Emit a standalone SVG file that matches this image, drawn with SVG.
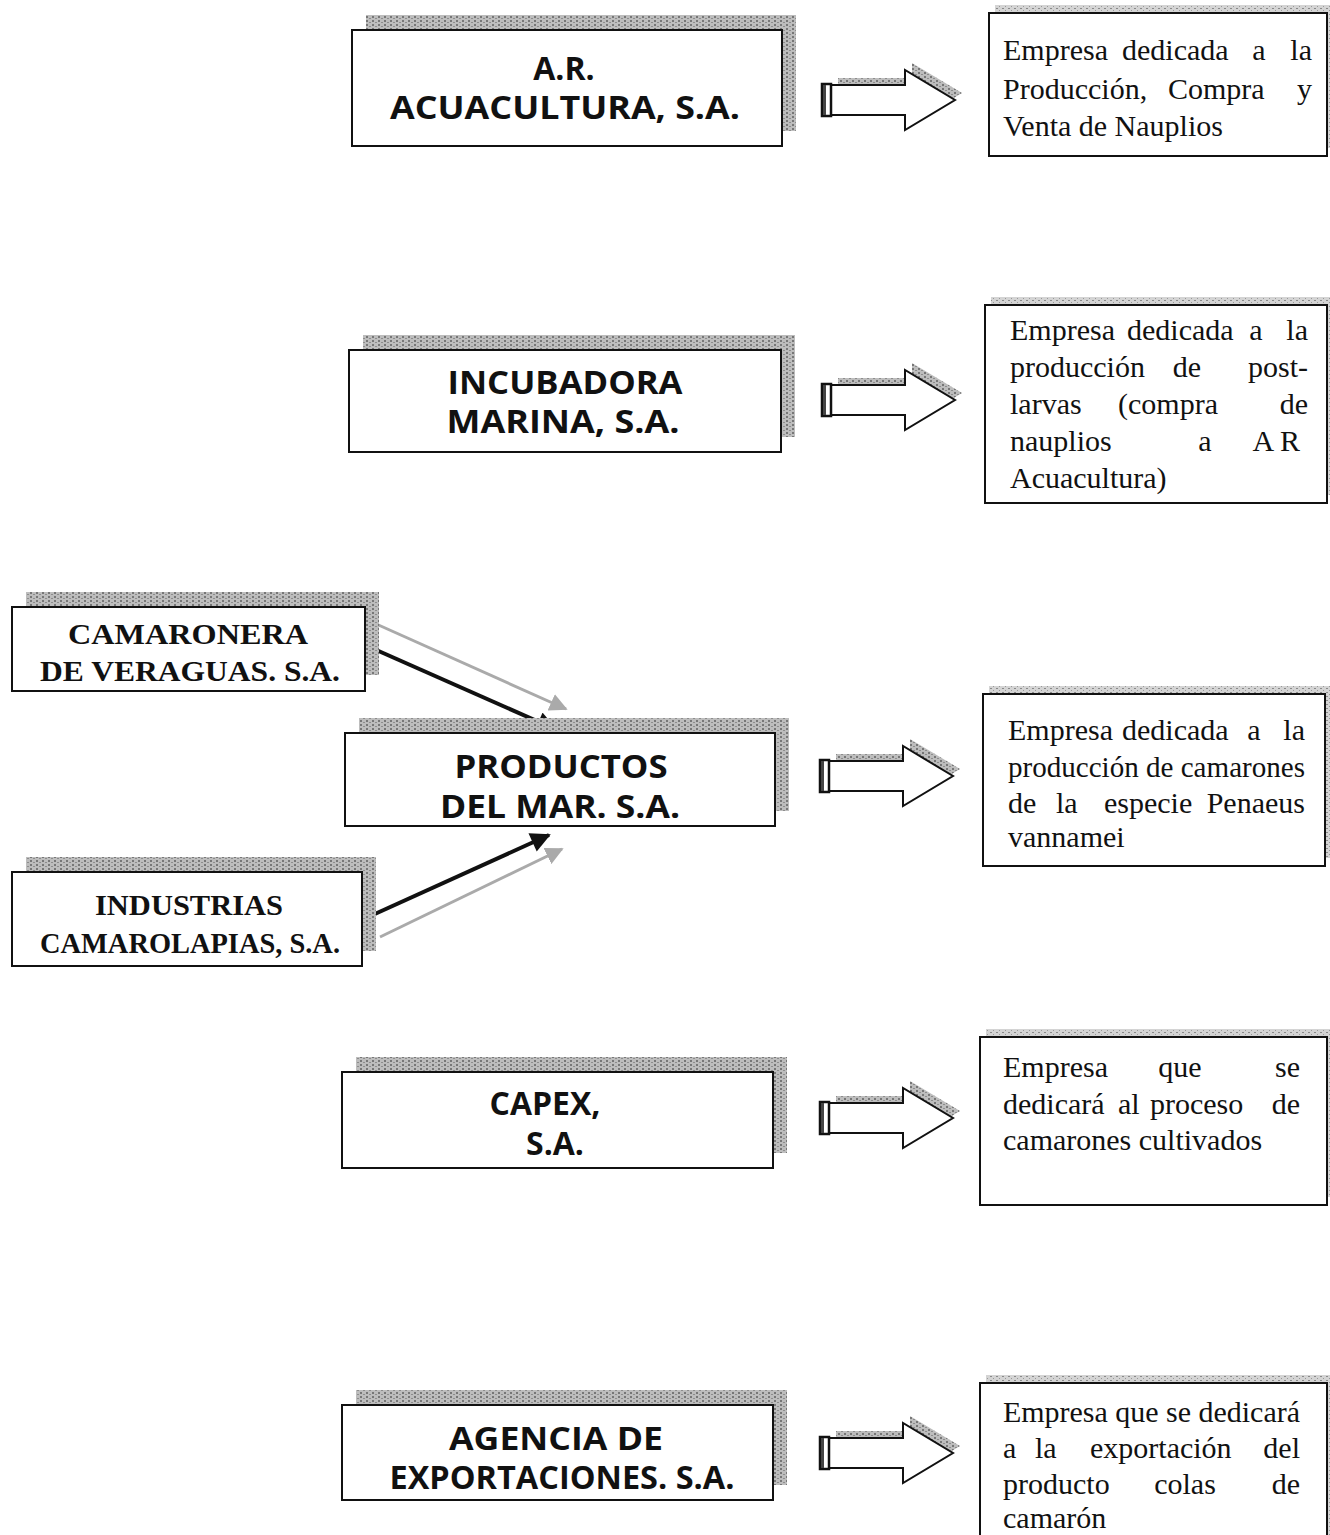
<svg xmlns="http://www.w3.org/2000/svg" width="1330" height="1535" viewBox="0 0 1330 1535">
<style>
.box{fill:#fff;stroke:#111;stroke-width:2}
.sh{fill:url(#grain)}
.shl{fill:url(#grainL)}
.sans{font-family:"Open Sans","Lato","DejaVu Sans",sans-serif;font-weight:700;font-size:32px;fill:#111;text-anchor:middle}
.serb{font-family:"Liberation Serif","Times New Roman",serif;font-weight:700;font-size:30px;fill:#111;text-anchor:middle}
.ser{font-family:"Liberation Serif","Times New Roman",serif;font-size:30px;fill:#111}
.e{text-anchor:end}
.m{text-anchor:middle}
</style>
<defs>
<pattern id="grain" width="6" height="4" patternUnits="userSpaceOnUse"><rect width="6" height="4" fill="#bdbdbd"/><rect x="0" y="0" width="2" height="2" fill="#777"/><rect x="3" y="2" width="2" height="1" fill="#8d8d8d"/></pattern>
<pattern id="grainL" width="6" height="4" patternUnits="userSpaceOnUse"><rect width="6" height="4" fill="#d4d4d4"/><rect x="0" y="0" width="2" height="1" fill="#8a8a8a"/><rect x="3" y="2" width="1" height="1" fill="#999"/></pattern>
<marker id="ah" viewBox="0 0 10 10" refX="9" refY="5" markerWidth="22" markerHeight="20" markerUnits="userSpaceOnUse" orient="auto"><path d="M0,0 L10,5 L0,10 Z" fill="#111"/></marker>
<marker id="ahg" viewBox="0 0 10 10" refX="9" refY="5" markerWidth="18" markerHeight="18" markerUnits="userSpaceOnUse" orient="auto"><path d="M0,0 L10,5 L0,10 Z" fill="#aaa"/></marker>
<g id="barrow">
<path d="M16,-22 H90 V-37 L140,-7 L90,23 V8 H16 Z" class="sh"/>
<path d="M9,-15 H83 V-30 L133,0 L83,30 V15 H9 Z" fill="#fff" stroke="#111" stroke-width="2"/>
<rect x="0" y="-16" width="9" height="32" fill="#fff" stroke="#111" stroke-width="2.5"/>
<rect x="1" y="-15" width="3" height="30" fill="#444"/>
</g>
</defs>

<g id="connectors">
<use href="#barrow" transform="translate(822,100)"/>
<use href="#barrow" transform="translate(822,400)"/>
<use href="#barrow" transform="translate(820,776)"/>
<use href="#barrow" transform="translate(820,1118)"/>
<use href="#barrow" transform="translate(820,1453)"/>
<line x1="374" y1="623" x2="566" y2="709" stroke="#aaa" stroke-width="3" marker-end="url(#ahg)"/>
<line x1="380" y1="937" x2="562" y2="849" stroke="#aaa" stroke-width="3" marker-end="url(#ahg)"/>
<line x1="365" y1="645" x2="555" y2="729" stroke="#111" stroke-width="4" marker-end="url(#ah)"/>
<line x1="366" y1="918" x2="549" y2="835" stroke="#111" stroke-width="4" marker-end="url(#ah)"/>
</g>

<g id="n-acuacultura">
<rect x="366" y="15" width="430" height="116" class="sh"/>
<rect x="352" y="30" width="430" height="116" class="box"/>
<text x="564" y="80" class="sans">A.R.</text>
<text x="565" y="119" class="sans" textLength="350" lengthAdjust="spacingAndGlyphs">ACUACULTURA, S.A.</text>
</g>
<g id="n-incubadora">
<rect x="363" y="335" width="432" height="102" class="sh"/>
<rect x="349" y="350" width="432" height="102" class="box"/>
<text x="565" y="394" class="sans" textLength="235" lengthAdjust="spacingAndGlyphs">INCUBADORA</text>
<text x="563" y="433" class="sans" textLength="233" lengthAdjust="spacingAndGlyphs">MARINA, S.A.</text>
</g>
<g id="n-camaronera">
<rect x="26" y="592" width="353" height="83" class="sh"/>
<rect x="12" y="607" width="353" height="84" class="box"/>
<text x="188" y="644" class="serb" textLength="240" lengthAdjust="spacingAndGlyphs">CAMARONERA</text>
<text x="190" y="681" class="serb" textLength="300" lengthAdjust="spacingAndGlyphs">DE VERAGUAS. S.A.</text>
</g>
<g id="n-productos">
<rect x="359" y="718" width="430" height="93" class="sh"/>
<rect x="345" y="733" width="430" height="93" class="box"/>
<text x="561" y="778" class="sans" textLength="213" lengthAdjust="spacingAndGlyphs">PRODUCTOS</text>
<text x="560" y="818" class="sans" textLength="240" lengthAdjust="spacingAndGlyphs">DEL MAR. S.A.</text>
</g>
<g id="n-industrias">
<rect x="26" y="857" width="350" height="94" class="sh"/>
<rect x="12" y="872" width="350" height="94" class="box"/>
<text x="189" y="915" class="serb" textLength="188" lengthAdjust="spacingAndGlyphs">INDUSTRIAS</text>
<text x="190" y="953" class="serb" textLength="300" lengthAdjust="spacingAndGlyphs">CAMAROLAPIAS, S.A.</text>
</g>
<g id="n-capex">
<rect x="356" y="1057" width="431" height="96" class="sh"/>
<rect x="342" y="1072" width="431" height="96" class="box"/>
<text x="545" y="1115" class="sans">CAPEX,</text>
<text x="555" y="1155" class="sans">S.A.</text>
</g>
<g id="n-agencia">
<rect x="356" y="1390" width="431" height="95" class="sh"/>
<rect x="342" y="1405" width="431" height="95" class="box"/>
<text x="556" y="1450" class="sans" textLength="214" lengthAdjust="spacingAndGlyphs">AGENCIA DE</text>
<text x="562" y="1489" class="sans" textLength="345" lengthAdjust="spacingAndGlyphs">EXPORTACIONES. S.A.</text>
</g>

<g id="d-acuacultura">
<rect x="995" y="5" width="338" height="143" class="shl"/>
<rect x="989" y="13" width="338" height="143" class="box"/>
<text x="1003" y="60" class="ser">Empresa</text>
<text x="1122" y="60" class="ser">dedicada</text>
<text x="1259" y="60" class="ser m">a</text>
<text x="1312" y="60" class="ser e">la</text>
<text x="1003" y="99" class="ser">Producción,</text>
<text x="1168" y="99" class="ser">Compra</text>
<text x="1312" y="99" class="ser e">y</text>
<text x="1003" y="136" class="ser">Venta de Nauplios</text>
</g>
<g id="d-incubadora">
<rect x="991" y="297" width="342" height="198" class="shl"/>
<rect x="985" y="305" width="342" height="198" class="box"/>
<text x="1010" y="340" class="ser">Empresa</text>
<text x="1127" y="340" class="ser">dedicada</text>
<text x="1256" y="340" class="ser m">a</text>
<text x="1308" y="340" class="ser e">la</text>
<text x="1010" y="377" class="ser">producción</text>
<text x="1187" y="377" class="ser m">de</text>
<text x="1308" y="377" class="ser e">post-</text>
<text x="1010" y="414" class="ser">larvas</text>
<text x="1118" y="414" class="ser">(compra</text>
<text x="1308" y="414" class="ser e">de</text>
<text x="1010" y="451" class="ser">nauplios</text>
<text x="1205" y="451" class="ser m">a</text>
<text x="1300" y="451" class="ser e">A R</text>
<text x="1010" y="488" class="ser">Acuacultura)</text>
</g>
<g id="d-productos">
<rect x="989" y="686" width="342" height="172" class="shl"/>
<rect x="983" y="694" width="342" height="172" class="box"/>
<text x="1008" y="740" class="ser">Empresa</text>
<text x="1122" y="740" class="ser">dedicada</text>
<text x="1254" y="740" class="ser m">a</text>
<text x="1305" y="740" class="ser e">la</text>
<text x="1008" y="777" class="ser" textLength="297" lengthAdjust="spacingAndGlyphs">producción de camarones</text>
<text x="1008" y="813" class="ser">de</text>
<text x="1056" y="813" class="ser">la</text>
<text x="1104" y="813" class="ser">especie</text>
<text x="1305" y="813" class="ser e">Penaeus</text>
<text x="1008" y="847" class="ser">vannamei</text>
</g>
<g id="d-capex">
<rect x="986" y="1029" width="347" height="168" class="shl"/>
<rect x="980" y="1037" width="347" height="168" class="box"/>
<text x="1003" y="1077" class="ser">Empresa</text>
<text x="1180" y="1077" class="ser m">que</text>
<text x="1300" y="1077" class="ser e">se</text>
<text x="1003" y="1114" class="ser">dedicará</text>
<text x="1118" y="1114" class="ser">al</text>
<text x="1150" y="1114" class="ser">proceso</text>
<text x="1300" y="1114" class="ser e">de</text>
<text x="1003" y="1150" class="ser">camarones cultivados</text>
</g>
<g id="d-agencia">
<rect x="986" y="1375" width="347" height="170" class="shl"/>
<rect x="980" y="1383" width="347" height="170" class="box"/>
<text x="1003" y="1422" class="ser" textLength="297" lengthAdjust="spacingAndGlyphs">Empresa que se  dedicará</text>
<text x="1003" y="1458" class="ser">a</text>
<text x="1035" y="1458" class="ser">la</text>
<text x="1090" y="1458" class="ser">exportación</text>
<text x="1300" y="1458" class="ser e">del</text>
<text x="1003" y="1494" class="ser">producto</text>
<text x="1185" y="1494" class="ser m">colas</text>
<text x="1300" y="1494" class="ser e">de</text>
<text x="1003" y="1528" class="ser">camarón</text>
</g>
</svg>
